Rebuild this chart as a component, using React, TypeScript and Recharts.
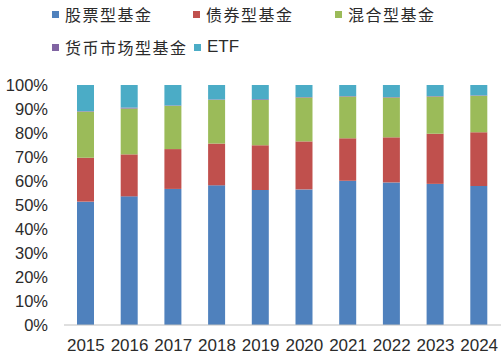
import React from "react";
import { BarChart, Bar, XAxis, YAxis } from "recharts";

const years = ["2015", "2016", "2017", "2018", "2019", "2020", "2021", "2022", "2023", "2024"];
const stockFund = [51.4, 53.6, 56.7, 58.2, 56.3, 56.5, 60.1, 59.4, 58.8, 57.9];
const bondFund = [18.3, 17.5, 16.6, 17.4, 18.6, 20.0, 17.7, 18.8, 20.9, 22.4];
const hybridFund = [19.2, 19.1, 18.0, 18.2, 18.9, 18.3, 17.4, 16.6, 15.5, 15.2];
const moneyFund = [0.2, 0.4, 0.2, 0.2, 0.3, 0.2, 0.2, 0.2, 0.2, 0.2];
const etfFund = [10.9, 9.4, 8.5, 6.0, 5.9, 5.0, 4.6, 5.0, 4.6, 4.3];
const yTicks = [0, 10, 20, 30, 40, 50, 60, 70, 80, 90, 100];

const series = [
  { key: "stock", name: "股票型基金", color: "#4F81BD" },
  { key: "bond", name: "债券型基金", color: "#C0504D" },
  { key: "hybrid", name: "混合型基金", color: "#9BBB59" },
  { key: "money", name: "货币市场型基金", color: "#8064A2" },
  { key: "etf", name: "ETF", color: "#4BACC6" },
];

const data = years.map((y, i) => ({
  year: y,
  stock: stockFund[i],
  bond: bondFund[i],
  hybrid: hybridFund[i],
  money: moneyFund[i],
  etf: etfFund[i],
}));

const legendPos = [
  { x: 52, y: 14 },
  { x: 193, y: 14 },
  { x: 335, y: 14 },
  { x: 52, y: 47 },
  { x: 194, y: 47 },
];

export default function App() {
  return (
    <div style={{ position: "absolute", left: 0, top: 0, width: 504, height: 359, background: "#fff" }}>
      <BarChart
        width={504}
        height={359}
        data={data}
        margin={{ top: 85, right: 3, bottom: 0, left: 0 }}
        barSize={17}
      >
        <XAxis
          dataKey="year"
          height={34}
          tickLine={false}
          axisLine={{ stroke: "#BFBFBF" }}
          tickMargin={8}
          interval={0}
          tick={{ fill: "#2b2b2b", fontSize: 17, fontFamily: "Liberation Sans, Arial, sans-serif" }}
        />
        <YAxis
          width={64}
          domain={[0, 100]}
          ticks={yTicks}
          interval={0}
          tickFormatter={(v) => `${v}%`}
          axisLine={false}
          tickLine={false}
          tickMargin={10}
          tick={{ fill: "#2b2b2b", fontSize: 16.5, fontFamily: "Liberation Sans, Arial, sans-serif" }}
        />
        {series.map((s) => (
          <Bar key={s.key} dataKey={s.key} name={s.name} stackId="a" fill={s.color} isAnimationActive={false} />
        ))}
      </BarChart>
      {series.map((s, i) => (
        <div
          key={s.key}
          style={{
            position: "absolute",
            left: legendPos[i].x,
            top: legendPos[i].y - 12,
            height: 24,
            display: "flex",
            alignItems: "center",
            whiteSpace: "nowrap",
          }}
        >
          <div style={{ width: 7, height: 7, background: s.color, marginRight: 6 }} />
          <span
            style={{
              fontFamily: s.key === "etf" ? "Liberation Sans, Arial, sans-serif" : "Noto Sans CJK SC, sans-serif",
              fontSize: s.key === "etf" ? 17 : 16,
              letterSpacing: s.key === "etf" ? 0 : 1.5,
              color: "#2b2b2b",
              lineHeight: "24px",
            }}
          >
            {s.name}
          </span>
        </div>
      ))}
    </div>
  );
}
